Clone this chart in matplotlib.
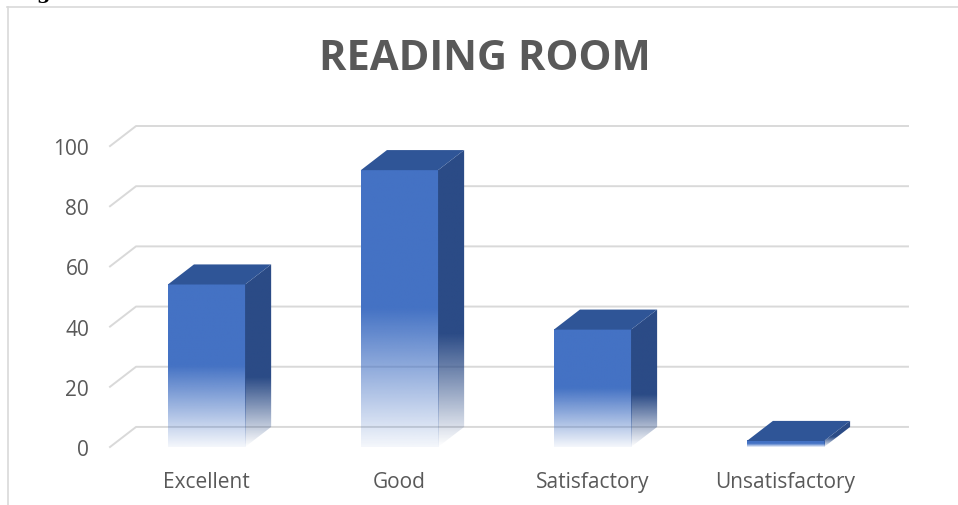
import numpy as np
import matplotlib.pyplot as plt
from matplotlib.colors import to_rgb
from matplotlib.lines import Line2D
from matplotlib.patches import Polygon

categories = ["Excellent", "Good", "Satisfactory", "Unsatisfactory"]
values = [54, 92, 39, 2]
y_ticks = [0, 20, 40, 60, 80, 100]

FRONT = "#4472C4"
TOP = "#2F5597"
SIDE = "#2B4B86"
GRID = "#D9D9D9"
TEXT = "#595959"

BAR_W = 0.4
DX = 0.135  # depth of the 3d box, in category units
DY = 6.67   # depth of the 3d box, in value units

plt.rcParams["font.family"] = ["Open Sans", "DejaVu Sans"]


def fade(color, n=256, solid=0.5, low=0.06):
    # vertical gradient, row 0 at the bottom: pale at the base, solid in the top part
    t = np.linspace(0, 1, n)
    alpha = np.clip(low + (1 - low) * t / (1 - solid), low, 1.0)
    rgba = np.zeros((n, 1, 4))
    rgba[..., :3] = to_rgb(color)
    rgba[..., 3] = alpha[:, None]
    return rgba


fig = plt.figure(figsize=(9.58, 5.06), dpi=100)
W, H = 958, 506
ax = fig.add_axes([110 / W, 1 - 448 / H, (908 - 110) / W, (448 - 127) / H])

# back wall gridlines with the short diagonal on the side wall
x_lo, x_hi = -0.5, len(categories) - 0.5
for v in y_ticks:
    ax.plot([x_lo, x_lo + DX, x_hi + DX], [v, v + DY, v + DY],
            color=GRID, lw=1.4, zorder=1, clip_on=False)

for i, v in enumerate(values):
    x0, x1 = i - BAR_W / 2, i + BAR_W / 2
    # front face
    ax.imshow(fade(FRONT), extent=(x0, x1, 0, v), origin="lower",
              aspect="auto", interpolation="bilinear", zorder=3)
    # side face
    side = Polygon([(x1, 0), (x1 + DX, DY), (x1 + DX, v + DY), (x1, v)],
                   closed=True, facecolor="none", edgecolor="none")
    ax.add_patch(side)
    im = ax.imshow(fade(SIDE, solid=0.62, low=0.0), extent=(x1, x1 + DX, 0, v + DY),
                   origin="lower", aspect="auto", interpolation="bilinear", zorder=3)
    im.set_clip_path(side)
    # top face
    ax.add_patch(Polygon([(x0, v), (x1, v), (x1 + DX, v + DY), (x0 + DX, v + DY)],
                         closed=True, facecolor=TOP, edgecolor="none", zorder=4))

ax.set_xlim(x_lo, x_hi + DX)
ax.set_ylim(0, 100 + DY)
ax.set_xticks(range(len(categories)))
ax.set_xticklabels(categories)
ax.set_yticks(y_ticks)
for s in ax.spines.values():
    s.set_visible(False)
ax.tick_params(axis="y", length=0, pad=15, labelsize=15, labelcolor=TEXT)
ax.tick_params(axis="x", length=0, pad=17, labelsize=15, labelcolor=TEXT)
ax.patch.set_alpha(0)

fig.text(485 / W, 1 - 60 / H, "READING ROOM", ha="center", va="center",
         fontsize=30, fontweight="bold", color=TEXT)

# chart frame edges and the clipped caption letter above it
fig.add_artist(Line2D([7.5 / W, 7.5 / W], [0, 1 - 8 / H], color=GRID, lw=1.2))
fig.add_artist(Line2D([7 / W, 1], [1 - 8 / H, 1 - 8 / H], color=GRID, lw=1.2))
fig.text(43 / W, 1 + 1 / H, "g", ha="center", va="baseline", fontsize=14,
         fontweight="bold", color="black", family=["DejaVu Serif"])

fig.savefig("out.png", dpi=100)
